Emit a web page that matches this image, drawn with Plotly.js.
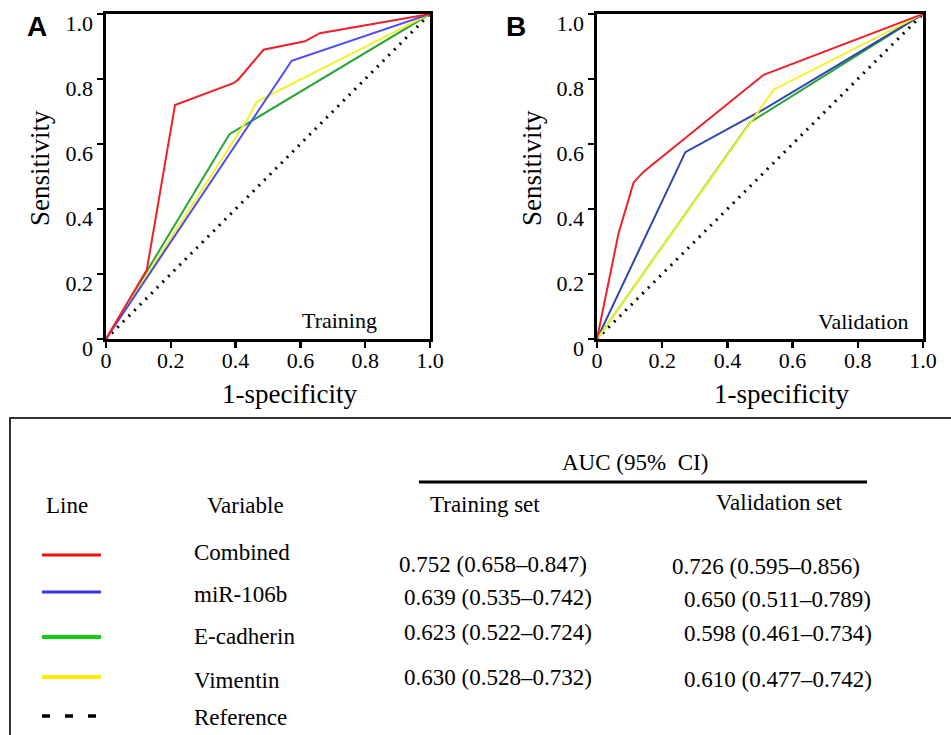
<!DOCTYPE html>
<html>
<head>
<meta charset="utf-8">
<script src="https://cdn.plot.ly/plotly-3.0.1.min.js"></script>
<style>
  html, body { margin: 0; padding: 0; background: #ffffff; }
  #chart { width: 951px; height: 735px; }
</style>
</head>
<body>
<div id="chart"></div>
<script>
// ---------------- DATA ----------------
// Training set ROC curves (x = 1-specificity, y = sensitivity)
var trainFprCombined = [0, 0.126, 0.213, 0.393, 0.408, 0.486, 0.614, 0.63, 0.66, 1];
var trainTprCombined = [0, 0.213, 0.720, 0.787, 0.798, 0.890, 0.916, 0.925, 0.941, 1];
var trainFprMiR = [0, 0.573, 1];
var trainTprMiR = [0, 0.856, 1];
var trainFprEcad = [0, 0.381, 1];
var trainTprEcad = [0, 0.630, 1];
var trainFprVim = [0, 0.439, 0.465, 1];
var trainTprVim = [0, 0.680, 0.730, 1];

// Validation set ROC curves
var valFprCombined = [0, 0.066, 0.112, 0.143, 0.511, 1];
var valTprCombined = [0, 0.325, 0.481, 0.515, 0.813, 1];
var valFprMiR = [0, 0.271, 0.50, 1];
var valTprMiR = [0, 0.575, 0.700, 1];
var valFprEcad = [0, 0.470, 1];
var valTprEcad = [0, 0.667, 1];
var valFprVim = [0, 0.542, 1];
var valTprVim = [0, 0.767, 1];

// Reference (chance) line
var refFpr = [0, 1];
var refTpr = [0, 1];

// Axis ticks
var tickValues = [0, 0.2, 0.4, 0.6, 0.8, 1.0];
var tickLabels = ['0', '0.2', '0.4', '0.6', '0.8', '1.0'];

// Table
var tableVariables = ['Combined', 'miR-106b', 'E-cadherin', 'Vimentin', 'Reference'];
var tableTrainAUC = ['0.752 (0.658\u20130.847)', '0.639 (0.535\u20130.742)', '0.623 (0.522\u20130.724)', '0.630 (0.528\u20130.732)'];
var tableValAUC = ['0.726 (0.595\u20130.856)', '0.650 (0.511\u20130.789)', '0.598 (0.461\u20130.734)', '0.610 (0.477\u20130.742)'];
var tableHeaders = ['Line', 'Variable', 'Training set', 'Validation set'];
var tableGroupHeader = 'AUC (95%  CI)';
var panelNames = ['Training', 'Validation'];
var panelLetters = ['A', 'B'];

// ---------------- STYLE ----------------
var W = 951, H = 735;
var SERIF = 'Liberation Serif';
var SANS = 'Liberation Sans';
var col = {
  redA: '#f0202a', blueA: '#4a4aff', greenA: '#25a535', yellowA: '#f2f22a',
  redB: '#f0202a', blueB: '#2f45b0', greenB: '#25a535', yellowB: '#f2f22a',
  legRed: '#ee1111', legBlue: '#3333ee', legGreen: '#11cc11', legYellow: '#ffee00'
};
function px(x) { return x / W; }
function py(y) { return 1 - y / H; }

function curve(x, y, color, xa, ya, dash, width) {
  return {
    type: 'scatter', mode: 'lines', x: x, y: y, xaxis: xa, yaxis: ya,
    line: { color: color, width: width || 2, dash: dash || 'solid' },
    hoverinfo: 'skip', showlegend: false
  };
}

var traces = [
  curve(refFpr, refTpr, '#000000', 'x', 'y', '2px,6px', 3),
  curve(trainFprEcad, trainTprEcad, col.greenA, 'x', 'y'),
  curve(trainFprVim, trainTprVim, col.yellowA, 'x', 'y'),
  curve(trainFprMiR, trainTprMiR, col.blueA, 'x', 'y'),
  curve(trainFprCombined, trainTprCombined, col.redA, 'x', 'y'),
  curve(refFpr, refTpr, '#000000', 'x2', 'y2', '2px,6px', 3),
  curve(valFprEcad, valTprEcad, col.greenB, 'x2', 'y2'),
  curve(valFprMiR, valTprMiR, col.blueB, 'x2', 'y2'),
  curve(valFprVim, valTprVim, col.yellowB, 'x2', 'y2'),
  curve(valFprCombined, valTprCombined, col.redB, 'x2', 'y2')
];

function axisStyle(domain, anchor) {
  return {
    domain: domain, anchor: anchor, range: [0, 1],
    tickmode: 'array', tickvals: tickValues, ticktext: tickLabels,
    ticks: 'outside', ticklen: 6, tickwidth: 2.5, tickcolor: '#000',
    showline: true, mirror: true, linewidth: 2.6, linecolor: '#000',
    showgrid: false, zeroline: false, fixedrange: true,
    tickfont: { family: SERIF, size: 22, color: '#000' }
  };
}

var yDom = [py(339), py(14)];
var layout = {
  width: W, height: H,
  margin: { l: 0, r: 0, t: 0, b: 0, pad: 0 },
  paper_bgcolor: '#ffffff', plot_bgcolor: '#ffffff',
  font: { family: SERIF, color: '#000' },
  showlegend: false,
  xaxis: Object.assign(axisStyle([px(106), px(430)], 'y'), { ticklabelstandoff: -6 }),
  yaxis: Object.assign(axisStyle(yDom, 'x'), { ticklabelshift: 9, ticklabelstandoff: 0 }),
  xaxis2: Object.assign(axisStyle([px(597), px(923)], 'y2'), { ticklabelstandoff: -6 }),
  yaxis2: Object.assign(axisStyle(yDom, 'x2'), { ticklabelshift: 9, ticklabelstandoff: 0 }),
  shapes: [],
  annotations: []
};

function ann(text, x, y, size, opts) {
  var a = {
    text: text, x: px(x), y: py(y), xref: 'paper', yref: 'paper',
    showarrow: false, xanchor: 'center', yanchor: 'middle',
    font: { family: SERIF, size: size, color: '#000' }
  };
  return Object.assign(a, opts || {});
}

// Panel letters
layout.annotations.push(ann('<b>' + panelLetters[0] + '</b>', 36.5, 27, 28, { font: { family: SANS, size: 28, color: '#000' } }));
layout.annotations.push(ann('<b>' + panelLetters[1] + '</b>', 515.5, 27, 28, { font: { family: SANS, size: 28, color: '#000' } }));
// Axis titles
layout.annotations.push(ann('1-specificity', 289, 394, 27));
layout.annotations.push(ann('1-specificity', 781, 394, 27));
layout.annotations.push(ann('Sensitivity', 40, 168, 27, { textangle: -90 }));
layout.annotations.push(ann('Sensitivity', 532, 168, 27, { textangle: -90 }));
// Panel labels
layout.annotations.push(ann(panelNames[0], 379, 320, 22, { xanchor: 'right' }));
layout.annotations.push(ann(panelNames[1], 910, 321, 22, { xanchor: 'right' }));

// ---------------- TABLE ----------------
var TF = 23;
layout.shapes.push({ type: 'rect', xref: 'paper', yref: 'paper',
  x0: px(10), x1: px(1000), y0: py(418), y1: py(800),
  line: { color: '#333333', width: 2 }, fillcolor: 'rgba(0,0,0,0)' });
layout.shapes.push({ type: 'line', xref: 'paper', yref: 'paper',
  x0: px(419), x1: px(867), y0: py(482), y1: py(482),
  line: { color: '#000000', width: 3 } });

layout.annotations.push(ann(tableGroupHeader, 635, 462.5, TF));
layout.annotations.push(ann(tableHeaders[0], 44, 505.5, TF, { xanchor: 'left' }));
layout.annotations.push(ann(tableHeaders[1], 245, 505.5, TF));
layout.annotations.push(ann(tableHeaders[2], 485, 504.5, TF));
layout.annotations.push(ann(tableHeaders[3], 779, 502.5, TF));

var legendColors = [col.legRed, col.legBlue, col.legGreen, col.legYellow, '#000000'];
var legendWidths = [3, 3, 4, 4, 3.5];
var lineRowsY = [555, 592, 637, 677, 716];
var labelRowsY = [552.5, 594.5, 636.5, 680.5, 717.5];
var trainRowsY = [564.5, 597.5, 632.5, 677.5];
var valRowsY = [566, 599.5, 633.5, 679.5];
var trainRowsX = [492.5, 498, 498, 498];
var valRowsX = [765.5, 777.5, 777.5, 777.5];

for (var i = 0; i < tableVariables.length; i++) {
  layout.shapes.push({ type: 'line', xref: 'paper', yref: 'paper',
    x0: px(42), x1: px(i === 4 ? 97 : 101), y0: py(lineRowsY[i]), y1: py(lineRowsY[i]),
    line: { color: legendColors[i], width: legendWidths[i], dash: i === 4 ? '8px,15px' : 'solid' } });
  layout.annotations.push(ann(tableVariables[i], 192, labelRowsY[i], TF, { xanchor: 'left' }));
}
for (var j = 0; j < tableTrainAUC.length; j++) {
  layout.annotations.push(ann(tableTrainAUC[j], trainRowsX[j], trainRowsY[j], TF));
  layout.annotations.push(ann(tableValAUC[j], valRowsX[j], valRowsY[j], TF));
}

Plotly.newPlot('chart', traces, layout, { displayModeBar: false, staticPlot: true });
</script>
</body>
</html>
